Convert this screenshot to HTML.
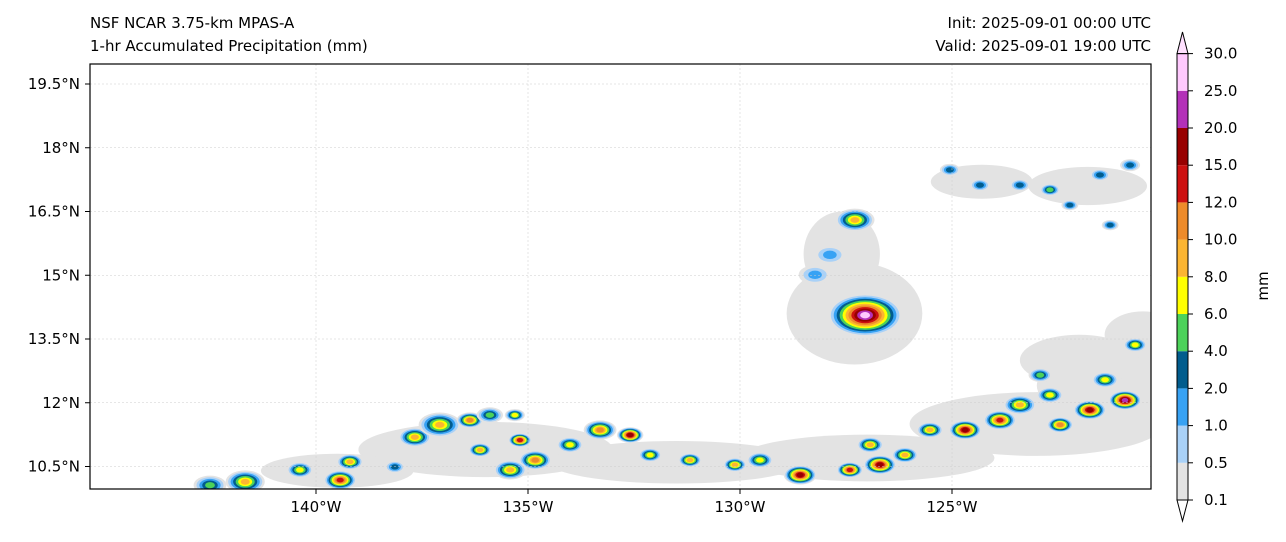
<!DOCTYPE html>
<html><head><meta charset="utf-8"><style>
body{margin:0;background:#fff;font-family:"Liberation Sans","DejaVu Sans",sans-serif}
svg text{font-family:"DejaVu Sans","Liberation Sans",sans-serif;font-size:15px;fill:#000}
</style></head><body>
<svg id="c" width="1286" height="537" xmlns="http://www.w3.org/2000/svg">
<text x="90" y="28">NSF NCAR 3.75-km MPAS-A</text>
<text x="90" y="51">1-hr Accumulated Precipitation (mm)</text>
<text x="1151" y="28" text-anchor="end">Init: 2025-09-01 00:00 UTC</text>
<text x="1151" y="51" text-anchor="end">Valid: 2025-09-01 19:00 UTC</text>
<defs><clipPath id="cp"><rect x="90" y="64" width="1061" height="425"/></clipPath></defs>
<g id="map" clip-path="url(#cp)"></g>
<g id="grid"></g>
<rect x="90" y="64" width="1061" height="425" fill="none" stroke="#000" stroke-width="1.2"/>
<g id="axes"></g>
<g id="cbar"></g>
<text transform="translate(1268,286) rotate(-90)" text-anchor="middle">mm</text>
</svg>
<script>
const lonTicks=[-140,-135,-130,-125];
const latTicks=[10.5,12,13.5,15,16.5,18,19.5];
const levels=["0.1","0.5","1.0","2.0","4.0","6.0","8.0","10.0","12.0","15.0","20.0","25.0","30.0"];
const colors=["#e3e3e3","#a9d1f7","#37a2f4","#015c8d","#4cd25a","#ffff00","#fbb532","#ee8b2a","#cc1010","#980000","#b331b8","#ffc9fe"];
const cellLon=[-142.5,-141.67,-140.38,-139.43,-139.2,-138.14,-137.67,-137.08,-136.37,-135.9,-135.31,-136.13,-135.19,-134.83,-134.01,-133.3,-132.59,-135.42,-132.12,-131.18,-130.12,-129.53,-128.58,-127.41,-126.7,-126.93,-126.11,-125.52,-124.69,-123.87,-123.4,-122.69,-122.45,-121.75,-120.92,-121.39,-120.68,-122.92,-127.05,-127.29,-127.88,-128.23,-125.05,-124.34,-123.4,-122.69,-121.51,-120.8,-122.22,-121.27];
const cellLat=[10.06,10.14,10.42,10.18,10.61,10.49,11.19,11.48,11.59,11.71,11.71,10.89,11.12,10.65,11.01,11.36,11.24,10.42,10.77,10.65,10.54,10.65,10.3,10.42,10.54,11.01,10.77,11.36,11.36,11.59,11.95,12.18,11.48,11.83,12.06,12.54,13.36,12.65,14.06,16.3,15.48,15.01,17.48,17.12,17.12,17.01,17.36,17.59,16.65,16.18];
const cellLevel=[4,6,5,8,6,3,6,6,7,4,5,6,8,7,5,7,9,6,5,6,6,5,9,8,9,6,6,6,9,8,6,5,7,9,10,5,5,4,11,6,2,2,3,3,3,4,3,3,3,3];
const cellSize=[9,11,7,9,7,5,9,12,7,7,5,6,6,9,7,9,7,9,6,6,6,7,9,7,9,7,7,7,9,9,9,7,7,9,9,7,6,6,22,11,9,9,5,5,5,5,5,5,4,4];
const grayLon=[-136,-131.5,-127,-123,-121,-127.3,-127.6,-124.3,-121.8,-122,-139.5,-120.5];
const grayLat=[10.9,10.6,10.7,11.5,12.4,14.1,15.5,17.2,17.1,13.0,10.4,13.6];
const grayRx=[3.0,3.0,3.0,3.0,2.0,1.6,0.9,1.2,1.4,1.4,1.8,0.9];
const grayRy=[0.65,0.5,0.55,0.75,0.8,1.2,1.0,0.4,0.45,0.6,0.4,0.55];
const NS="http://www.w3.org/2000/svg";
const X=lon=>316+(lon+140)*42.4, Y=lat=>84+(19.5-lat)*42.5;
function mk(t,a,p){const e=document.createElementNS(NS,t);for(const k in a)e.setAttribute(k,a[k]);p.appendChild(e);return e;}
const map=document.getElementById('map'),grid=document.getElementById('grid'),axes=document.getElementById('axes'),cb=document.getElementById('cbar');
grayLon.forEach((lo,i)=>{const e=mk('ellipse',{cx:X(lo),cy:Y(grayLat[i]),rx:grayRx[i]*42.4,ry:grayRy[i]*42.5,fill:colors[0]},map);

});
cellLon.forEach((lo,i)=>{const n=cellLevel[i]+1,r=cellSize[i];const g=mk('g',{},map);


for(let k=0;k<n;k++){const f=(n-k)/n;mk('ellipse',{cx:X(lo),cy:Y(cellLat[i]),rx:r*1.6*f+2,ry:r*0.9*f+1.5,fill:colors[k]},g);}});
lonTicks.forEach(l=>{const x=X(l);mk('line',{x1:x,x2:x,y1:64,y2:489,stroke:'#ccc','stroke-width':0.5,'stroke-dasharray':'2,2'},grid);
mk('line',{x1:x,x2:x,y1:489,y2:494,stroke:'#000'},axes);
const t=mk('text',{x:x,y:512,'text-anchor':'middle'},axes);t.textContent=(-l)+'°W';

});
latTicks.forEach(l=>{const y=Y(l);mk('line',{x1:90,x2:1151,y1:y,y2:y,stroke:'#ccc','stroke-width':0.5,'stroke-dasharray':'2,2'},grid);
mk('line',{x1:85,x2:90,y1:y,y2:y,stroke:'#000'},axes);
const t=mk('text',{x:80,y:y+5,'text-anchor':'end'},axes);t.textContent=l+'°N';

});
const cy0=500,dy=37.2,cx=1177,cw=11;
colors.forEach((c,i)=>{const r=mk('rect',{x:cx,y:cy0-(i+1)*dy,width:cw,height:dy,fill:c},cb);

});
mk('polygon',{points:`${cx},${cy0-12*dy} ${cx+cw/2},32 ${cx+cw},${cy0-12*dy}`,fill:'#ffe0ff',stroke:'#000'},cb);
mk('polygon',{points:`${cx},${cy0} ${cx+cw/2},521 ${cx+cw},${cy0}`,fill:'#fff',stroke:'#000'},cb);
mk('rect',{x:cx,y:cy0-12*dy,width:cw,height:12*dy,fill:'none',stroke:'#000'},cb);
levels.forEach((l,i)=>{const y=cy0-i*dy;mk('line',{x1:cx+cw,x2:cx+cw+5,y1:y,y2:y,stroke:'#000'},cb);
const t=mk('text',{x:1204,y:y+5},cb);t.textContent=l;

});
</script>
</body></html>
